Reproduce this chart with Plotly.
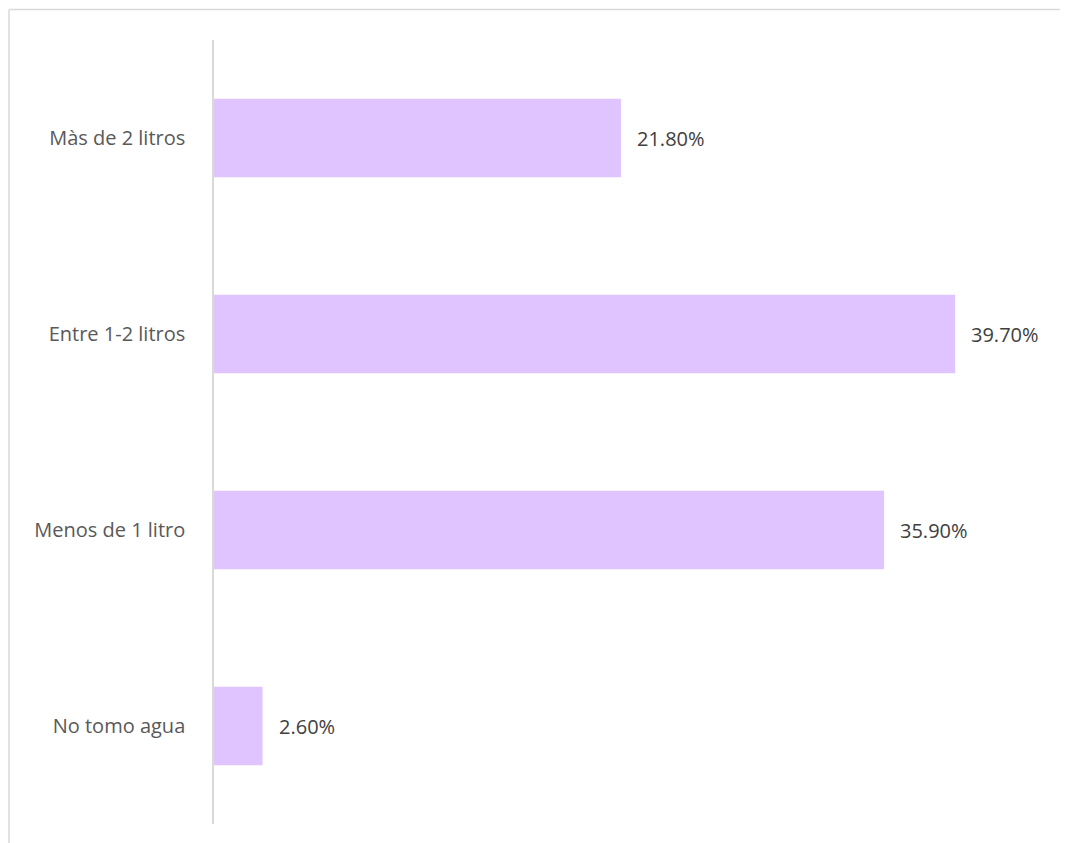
import plotly.graph_objects as go

categories = ["No tomo agua", "Menos de 1 litro", "Entre 1-2 litros", "Màs de 2 litros"]
values = [2.6, 35.9, 39.7, 21.8]
labels = ["2.60%", "35.90%", "39.70%", "21.80%"]

# page offset of 8px (body margin) compensated
W, H = 1060, 835
L, R, T, B = 206, 14, 32, 19

fig = go.Figure(go.Bar(
    y=categories, x=values, orientation="h",
    marker=dict(color="#E0C4FF", line=dict(width=0)),
    width=0.4,
))

for c, v, t in zip(categories, values, labels):
    fig.add_annotation(x=v, y=c, text=t, showarrow=False, xanchor="left",
                       xshift=14, font=dict(family="Open Sans", size=20, color="#404040"))

pw, ph = W - L - R, H - T - B
x0 = (1 - L) / pw
y1 = (H - B - 1.5) / ph
fig.add_shape(type="line", xref="paper", yref="paper", x0=x0, x1=(1059 - L) / pw, y0=y1, y1=y1,
              line=dict(color="#d9d9d9", width=1.5))
fig.add_shape(type="line", xref="paper", yref="paper", x0=x0, x1=x0, y0=y1, y1=(H - B - 850) / ph,
              line=dict(color="#d9d9d9", width=1.5))

fig.update_layout(
    width=W, height=H,
    margin=dict(l=L, r=R, t=T, b=B),
    paper_bgcolor="white", plot_bgcolor="white",
    showlegend=False,
    xaxis=dict(range=[0, 45], visible=False, showgrid=False, zeroline=False),
    yaxis=dict(showline=True, linecolor="#d9d9d9", linewidth=1.5, ticks="",
               showgrid=False, zeroline=False, ticklabelstandoff=23,
               tickfont=dict(family="Open Sans", size=20, color="#595959")),
    font=dict(family="Open Sans"),
)

fig.write_html("out.html")
